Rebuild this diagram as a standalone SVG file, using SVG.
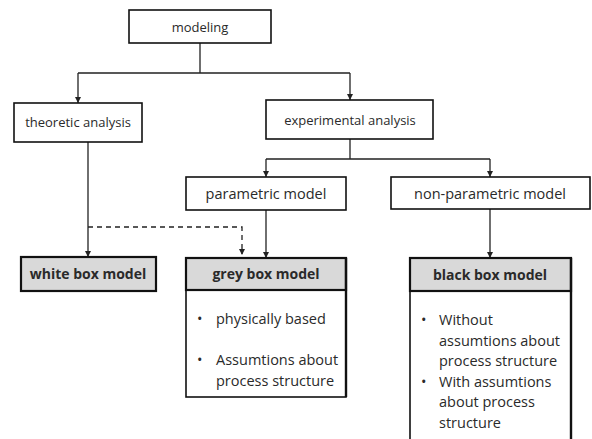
<svg xmlns="http://www.w3.org/2000/svg" width="592" height="439" viewBox="0 0 592 439">
<defs>
<style>
.box{fill:#fff;stroke:#111;stroke-width:1.6}
.hdr{fill:#d9d9d9;stroke:#111;stroke-width:2.2}
.t{font-family:"Open Sans","Liberation Sans",sans-serif;fill:#2a2a2a;text-anchor:middle}
.s13{font-size:13px}
.s14{font-size:14.5px}
.b{font-size:14px;font-weight:bold}
.l{font-family:"Open Sans","Liberation Sans",sans-serif;fill:#2a2a2a;font-size:14.5px}
.c{fill:none;stroke:#222;stroke-width:1.3}
.d{fill:none;stroke:#222;stroke-width:1.3;stroke-dasharray:5,4}
</style>
<marker id="ah" markerWidth="6" markerHeight="6" refX="3" refY="6" orient="auto-start-reverse" markerUnits="userSpaceOnUse" viewBox="0 0 6 6">
<path d="M0,0 L6,0 L3,6 Z" fill="#222" transform="rotate(-90 3 3) rotate(90 3 3)"/>
</marker>
</defs>
<rect width="592" height="439" fill="#fff"/>
<g id="connectors">
<path class="c" d="M200,43 V73 M78,73 H350"/>
<path class="c" d="M78,73 L78,103" />
<path class="c" d="M350,73 L350,100" />
<path class="c" d="M350,139 V159 M266,159 H490"/>
<path class="c" d="M266,159 L266,177"/>
<path class="c" d="M490,159 L490,177"/>
<path class="c" d="M88,142 L88,257"/>
<path class="d" d="M88,227 H242 V254"/>
<path class="c" d="M266,210 L266,258"/>
<path class="c" d="M490,209 L490,258"/>
<g fill="#222">
<path d="M75,97 L81,97 L78,103 Z"/>
<path d="M347,94 L353,94 L350,100 Z"/>
<path d="M263,171 L269,171 L266,177 Z"/>
<path d="M487,171 L493,171 L490,177 Z"/>
<path d="M85,251 L91,251 L88,257 Z"/>
<path d="M239,249 L245,249 L242,255 Z"/>
<path d="M263,252 L269,252 L266,258 Z"/>
<path d="M487,252 L493,252 L490,258 Z"/>
</g>
</g>
<g id="modeling">
<rect class="box" x="129" y="10" width="142" height="33"/>
<text class="t s13" x="200" y="31.5">modeling</text>
</g>
<g id="theoretic">
<rect class="box" x="14" y="103" width="128" height="39"/>
<text class="t s13" x="78" y="127">theoretic analysis</text>
</g>
<g id="experimental">
<rect class="box" x="266" y="100" width="167" height="39"/>
<text class="t s13" x="350" y="124.5">experimental analysis</text>
</g>
<g id="parametric">
<rect class="box" x="186" y="177" width="160" height="33"/>
<text class="t s14" x="266" y="199">parametric model</text>
</g>
<g id="nonparametric">
<rect class="box" x="391" y="177" width="199" height="32"/>
<text class="t s14" x="490" y="198.5">non-parametric model</text>
</g>
<g id="whitebox">
<rect class="hdr" x="21" y="257" width="135" height="34"/>
<text class="t b" x="88" y="279">white box model</text>
</g>
<g id="greybox">
<rect class="box" x="186" y="290" width="160" height="107"/>
<rect class="hdr" x="186" y="258" width="160" height="32"/>
<line x1="346" y1="258" x2="346" y2="397" stroke="#111" stroke-width="2.4"/>
<text class="t b" x="266" y="279">grey box model</text>
<text class="l" x="197" y="324">•</text>
<text class="l" x="216" y="324">physically based</text>
<text class="l" x="197" y="365">•</text>
<text class="l" x="216" y="365">Assumtions about</text>
<text class="l" x="216" y="386">process structure</text>
</g>
<g id="blackbox">
<rect class="box" x="410" y="291" width="161" height="170"/>
<rect class="hdr" x="410" y="258" width="161" height="33"/>
<line x1="571" y1="258" x2="571" y2="439" stroke="#111" stroke-width="2.4"/>
<text class="t b" x="490" y="280">black box model</text>
<text class="l" x="421" y="325">•</text>
<text class="l" x="439" y="325">Without</text>
<text class="l" x="439" y="345.5">assumtions about</text>
<text class="l" x="439" y="366">process structure</text>
<text class="l" x="421" y="386.5">•</text>
<text class="l" x="439" y="386.5">With assumtions</text>
<text class="l" x="439" y="407">about process</text>
<text class="l" x="439" y="427.5">structure</text>
</g>
</svg>
